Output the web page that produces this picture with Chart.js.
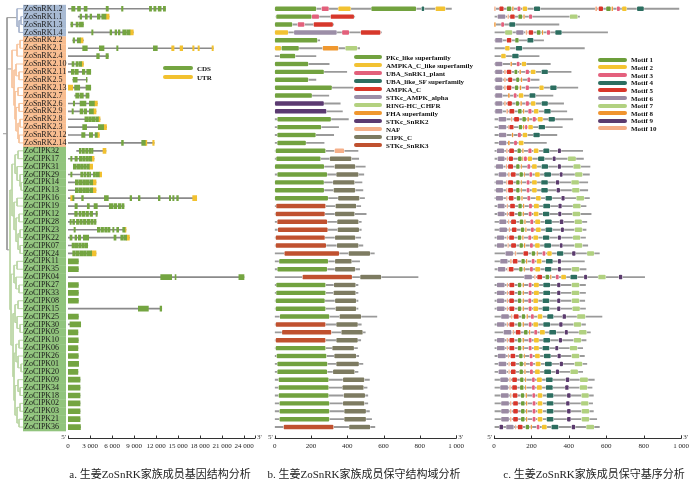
<!DOCTYPE html>
<html>
<head>
<meta charset="utf-8">
<script src="https://cdn.jsdelivr.net/npm/chart.js@4.4.1/dist/chart.umd.min.js"></script>
<style>
  body { margin: 0; background: #fff; width: 700px; height: 480px; position: relative; overflow: hidden; }
  canvas { position: absolute; top: 0; }
  .cap { position: absolute; top: 465px; font: 11px "Liberation Serif", "Noto Sans CJK SC", serif; color: #222; white-space: nowrap; transform: translateX(-50%); }
  .lg { position: absolute; font: bold 7px "Liberation Serif", serif; color: #111; white-space: nowrap; line-height: 8px; height: 8px; }
  .lg i { display: inline-block; height: 4px; border-radius: 2px; vertical-align: middle; margin-right: 4px; position: relative; top: -1px; }
</style>
</head>
<body>
<canvas id="tree" width="24" height="480" style="left:0"></canvas>
<canvas id="genes" width="250" height="480" style="left:20px"></canvas>
<canvas id="domains" width="213" height="480" style="left:262px"></canvas>
<canvas id="motifs" width="220" height="480" style="left:480px"></canvas>
<div class="cap" style="left:160px">a. 生姜ZoSnRK家族成员基因结构分析</div>
<div class="cap" style="left:364px">b. 生姜ZoSnRK家族成员保守结构域分析</div>
<div class="cap" style="left:594px">c. 生姜ZoSnRK家族成员保守基序分析</div>
<script>
// gene order, top to bottom
const genes = ['ZoSnRK1.2', 'ZoSnRK1.1', 'ZoSnRK1.3', 'ZoSnRK1.4', 'ZoSnRK2.2', 'ZoSnRK2.1', 'ZoSnRK2.4', 'ZoSnRK2.10',
  'ZoSnRK2.11', 'ZoSnRK2.5', 'ZoSnRK2.13', 'ZoSnRK2.7', 'ZoSnRK2.6', 'ZoSnRK2.9', 'ZoSnRK2.8', 'ZoSnRK2.3', 'ZoSnRK2.12',
  'ZoSnRK2.14', 'ZoCIPK32', 'ZoCIPK17', 'ZoCIPK31', 'ZoCIPK29', 'ZoCIPK14', 'ZoCIPK13', 'ZoCIPK16', 'ZoCIPK19', 'ZoCIPK12',
  'ZoCIPK28', 'ZoCIPK23', 'ZoCIPK22', 'ZoCIPK07', 'ZoCIPK24', 'ZoCIPK11', 'ZoCIPK35', 'ZoCIPK04', 'ZoCIPK27', 'ZoCIPK33',
  'ZoCIPK08', 'ZoCIPK15', 'ZoCIPK25', 'ZoCIPK30', 'ZoCIPK05', 'ZoCIPK10', 'ZoCIPK06', 'ZoCIPK26', 'ZoCIPK01', 'ZoCIPK20',
  'ZoCIPK09', 'ZoCIPK34', 'ZoCIPK18', 'ZoCIPK02', 'ZoCIPK03', 'ZoCIPK21', 'ZoCIPK36'];

// tick values of the three axes
const bpTicks = [0, 3000, 6000, 9000, 12000, 15000, 18000, 21000, 24000];
const aaTicks = [0, 200, 400, 600, 800, 1000];

// phylogenetic tree: [node depth, children...], leaves are row indexes
const tree = [7,
  [17, 0, [19, [21, 1, 2], 3]],
  [12, [17, [20, 4, 5], 6], [14, [16, 7, [19, 8, 9]], [15, [18, 10, 11], [16, [19, 12, 13], [18, [20, 14, 15], [19, 16, 17]]]]]],
  [10,
    [12, [15, [18, 18, 19], [17, 20, [20, 21, [21, 22, 23]]]], [14, [17, 24, 25], [16, [19, 26, 27], [18, [20, 28, 29], [20, 30, 31]]]]],
    [11, [14, [17, 32, 33], [16, 34, [19, 35, 36]]],
      [13, [15, [18, 37, 38], [17, 39, [20, 40, 41]]],
        [14, [16, [19, 42, 43], [18, 44, [21, 45, 46]]], [15, [18, 47, [20, 48, 49]], [17, [20, 50, 51], [19, 52, 53]]]]]]]
];

// a. gene structure (bp)
const geneSpan = [[0, 13300], [1400, 5600], [370, 2100], [0, 8900], [640, 2100], [0, 19800], [0, 5500], [0, 2100],
  [0, 3100], [640, 2600], [0, 3100], [910, 2860], [0, 4000], [0, 3820], [0, 4370], [0, 5250], [0, 4270], [0, 11750],
  [1180, 5180], [0, 3550], [730, 3360], [0, 4590], [0, 3820], [0, 3820], [0, 17550], [0, 7640], [0, 4000], [0, 3820],
  [0, 7910], [0, 8370], [0, 2700], [0, 3820], [0, 1410], [0, 1410], [0, 24000], [0, 1410], [0, 1410], [0, 1410],
  [0, 12780], [0, 1410], [0, 1730], [0, 1350], [0, 1400], [0, 1350], [0, 1400], [0, 1450], [0, 1350], [0, 1640],
  [0, 1640], [0, 1640], [0, 1640], [0, 1640], [0, 1640], [0, 1700]];

const cdsParts = [
  [[500, 950], [1300, 1700], [2200, 2600], [5200, 5500], [7300, 7500], [11100, 11400], [11700, 12000], [12300, 12700], [13000, 13300]],
  [[1640, 1860], [2360, 2630], [3000, 3230], [4000, 4360], [4600, 5180]],
  [[400, 650], [1100, 1400], [1550, 2100]],
  [[3230, 3410], [5730, 5960], [6410, 6640], [6860, 7090], [7460, 7900], [8000, 8460]],
  [[700, 900], [1270, 1700]],
  [[2000, 2630], [4270, 4910], [6640, 6820], [11640, 12180]],
  [[3910, 4270], [5180, 5500]],
  [[550, 820], [1090, 1410], [1540, 1860]],
  [[450, 820], [950, 1400], [1950, 2300], [2550, 3100]],
  [[700, 1250], [2500, 2600]],
  [[900, 1600], [2450, 3100]],
  [[1050, 1500], [1640, 2090], [2450, 2860]],
  [[720, 910], [1640, 2000], [2090, 2450], [2910, 3600]],
  [[550, 730], [1640, 2000], [2180, 2540], [2910, 3460]],
  [[2300, 2700], [2800, 3200], [3300, 3700], [3800, 4150]],
  [[2000, 2540], [4140, 4860]],
  [[1860, 2320], [2910, 3360], [3700, 4000]],
  [[7300, 7550], [10050, 10550]],
  [[1540, 1800], [1950, 2250], [2400, 2700], [2850, 3100], [3200, 3410]],
  [[370, 550], [950, 1270], [1540, 1900], [2000, 2350], [2450, 2800], [2900, 3230]],
  [[730, 1100], [1200, 1600], [1700, 2100], [2200, 2500], [2600, 2910]],
  [[370, 550], [1730, 2000], [2150, 2450], [2600, 2850], [2950, 3090], [3460, 3750], [3850, 4270]],
  [[1000, 1400], [1500, 1900], [2000, 2400], [2500, 2900], [3000, 3370]],
  [[1000, 1400], [1500, 1900], [2000, 2400], [2500, 2900], [3000, 3370]],
  [[640, 820], [1860, 2090], [4960, 5500], [8460, 8680], [9590, 9820], [12320, 12550], [13820, 14000], [14280, 14460], [14820, 15050]],
  [[950, 1270], [2630, 2910], [3550, 4000], [5630, 6100], [6250, 6650], [6850, 7200], [7350, 7640]],
  [[910, 1270], [1500, 1800], [1950, 2300], [2450, 2800], [3000, 3360], [3820, 4000]],
  [[270, 450], [640, 900], [1150, 1450], [1600, 1950], [2100, 2450], [2600, 2950], [3100, 3450], [3600, 3820]],
  [[820, 1000], [4000, 4350], [4500, 4850], [5000, 5350], [5450, 5730], [6100, 6270], [6640, 6910], [7460, 7770]],
  [[270, 550], [950, 1180], [1410, 1730], [2090, 2820], [6270, 6550], [7190, 7550], [7650, 8000]],
  [[550, 900], [1000, 1350], [1450, 1800], [1900, 2250], [2350, 2680]],
  [[640, 1000], [1100, 1500], [1600, 2000], [2100, 2500], [2600, 3230]],
  [[0, 1410]], [[0, 1410]],
  [[12640, 14140], [14600, 14730], [23300, 24000]],
  [[0, 1410]], [[0, 1410]], [[0, 1410]],
  [[9590, 10960], [12550, 12780]],
  [[0, 1410]], [[270, 1730]], [[0, 1350]], [[0, 1400]], [[0, 1350]], [[0, 1400]], [[0, 1450]], [[0, 1350]],
  [[0, 1640]], [[0, 1640]], [[0, 1640]], [[0, 1640]], [[0, 1640]], [[0, 1640]], [[0, 1700]]
];

const utrParts = [
  [], [[5180, 5600]], [], [[8460, 8900]], [[1700, 2050]],
  [[14140, 14460], [15280, 15640], [17000, 17190], [17730, 17910], [19640, 19820]],
  [], [[1860, 2100]], [], [], [[0, 640]], [], [[3600, 4000]], [[3460, 3820]], [[4150, 4370]], [[4860, 5250]],
  [[4000, 4270]], [[10550, 10750], [11550, 11750]],
  [[4770, 5180]], [[3230, 3550]], [[2910, 3360]], [[4270, 4590]], [[3370, 3820]], [[3370, 3820]],
  [[370, 640], [17000, 17550]], [], [], [], [[7770, 7910]], [[8000, 8370]], [], [[3230, 3820]],
  [], [], [], [], [], [], [], [], [], [], [], [], [], [], [], [], [], [], [], [], [], []
];

// b. conserved domains (aa)
const domainNames = ['PKc_like superfamily', 'AMPKA_C_like superfamily', 'UBA_SnRK1_plant', 'UBA_like_SF superfamily',
  'AMPKA_C', 'STKc_AMPK_alpha', 'RING-HC_CHFR', 'FHA superfamily', 'STKc_SnRK2', 'NAF', 'CIPK_C', 'STKc_SnRK3'];
const domainColors = ['#72a23f', '#f2c232', '#e2607b', '#2b6e60', '#d7382b', '#9c8ea7', '#b3d17f', '#f0982f',
  '#5b3a71', '#f5b08a', '#7d7b61', '#c0512f'];

const protSpan = [[0, 974], [7, 441], [0, 325], [0, 588], [0, 248], [0, 468], [0, 227], [0, 300], [0, 397], [0, 227],
  [0, 432], [0, 298], [0, 361], [0, 373], [0, 406], [0, 352], [0, 325], [0, 272], [0, 459], [0, 463], [0, 499],
  [0, 491], [0, 481], [0, 486], [0, 495], [0, 474], [0, 504], [0, 477], [0, 477], [0, 474], [0, 486], [0, 549],
  [0, 468], [0, 468], [0, 790], [0, 459], [0, 459], [0, 459], [0, 459], [0, 563], [0, 477], [0, 499], [0, 474],
  [0, 456], [0, 463], [0, 486], [0, 459], [0, 522], [0, 509], [0, 513], [0, 513], [0, 522], [0, 534], [0, 552]];

const domainParts = [
  [[0, 0, 230], [2, 257, 299], [1, 349, 420], [0, 531, 781], [3, 808, 826], [1, 885, 942]],
  [[0, 7, 204], [2, 204, 245], [4, 307, 438]],
  [[0, 0, 98], [2, 125, 165], [4, 213, 322]],
  [[1, 0, 75], [5, 105, 343], [2, 370, 411], [4, 473, 584]],
  [[0, 0, 236]],
  [[1, 0, 36], [0, 36, 134], [7, 263, 352], [6, 388, 456]],
  [[0, 27, 114]], [[0, 0, 186]], [[0, 0, 272]], [[0, 0, 186]], [[0, 0, 316]], [[0, 0, 206]],
  [[8, 0, 272]], [[8, 0, 286]],
  [[0, 13, 311]], [[0, 13, 257]], [[0, 13, 227]], [[0, 13, 173]],
  [[0, 4, 281], [9, 329, 384]],
  [[0, 7, 254], [10, 302, 424]],
  [[0, 0, 273], [10, 329, 445]],
  [[0, 13, 290], [10, 338, 463]],
  [[0, 0, 272], [10, 320, 441]],
  [[0, 0, 273], [10, 323, 445]],
  [[0, 0, 295], [10, 348, 468]],
  [[11, 7, 281], [10, 334, 450]],
  [[11, 4, 277], [10, 331, 441]],
  [[11, 13, 290], [10, 343, 463]],
  [[11, 16, 293], [10, 345, 466]],
  [[11, 4, 277], [10, 331, 445]],
  [[11, 4, 284], [10, 341, 463]],
  [[11, 52, 356], [10, 406, 527]],
  [[0, 23, 295], [10, 331, 425]],
  [[0, 13, 290], [10, 331, 445]],
  [[11, 152, 427], [10, 470, 588]],
  [[0, 7, 281], [10, 325, 447]],
  [[0, 7, 281], [10, 323, 447]],
  [[0, 4, 277], [10, 331, 450]],
  [[0, 4, 281], [10, 334, 450]],
  [[0, 27, 302], [10, 356, 477]],
  [[11, 4, 281], [10, 338, 459]],
  [[11, 39, 313], [10, 366, 486]],
  [[11, 4, 281], [10, 338, 459]],
  [[0, 4, 281], [10, 316, 438]],
  [[0, 9, 286], [10, 327, 450]],
  [[0, 13, 291], [10, 338, 465]],
  [[0, 13, 290], [10, 320, 441]],
  [[0, 20, 298], [10, 375, 495]],
  [[0, 20, 298], [10, 372, 491]],
  [[0, 20, 298], [10, 379, 499]],
  [[0, 25, 302], [10, 375, 495]],
  [[0, 25, 302], [10, 382, 504]],
  [[0, 25, 302], [10, 382, 504]],
  [[11, 48, 325], [10, 409, 527]]
];

// c. conserved motifs (aa), [motif number, start, end]
const motifNames = ['Motif 1', 'Motif 2', 'Motif 3', 'Motif 4', 'Motif 5', 'Motif 6', 'Motif 7', 'Motif 8', 'Motif 9', 'Motif 10'];
const motifColors = ['#6c9e3a', '#f4c431', '#e4607d', '#2c6e60', '#d8362b', '#9a8aa3', '#b1d180', '#f0942f', '#5b3b6e', '#f6ae86'];

const motifSpan = [[0, 988], [5, 457], [0, 347], [5, 607], [5, 265], [5, 483], [5, 241], [5, 301], [5, 412], [5, 241],
  [5, 448], [5, 315], [5, 372], [5, 389], [5, 421], [5, 365], [5, 336], [5, 280], [5, 474], [5, 478], [5, 513],
  [5, 510], [5, 501], [5, 501], [5, 510], [5, 492], [5, 519], [5, 496], [5, 492], [5, 489], [5, 501], [5, 563],
  [5, 483], [5, 492], [5, 805], [5, 489], [5, 489], [5, 485], [5, 489], [5, 577], [5, 489], [5, 515], [5, 492],
  [5, 474], [5, 483], [5, 496], [5, 474], [5, 536], [5, 524], [5, 531], [5, 527], [5, 531], [5, 549], [5, 563]];

const motifParts = [
  [[10, 0, 10], [5, 27, 53], [1, 67, 94], [8, 96, 106], [3, 124, 143], [2, 152, 179], [4, 212, 248],
   [10, 540, 552], [5, 558, 584], [1, 598, 625], [8, 627, 637], [3, 655, 674], [2, 683, 710], [4, 763, 802]],
  [[6, 18, 62], [10, 71, 81], [5, 85, 112], [1, 129, 152], [8, 156, 165], [3, 186, 205], [7, 404, 448]],
  [[8, 0, 10], [3, 37, 55], [4, 80, 115]],
  [[7, 58, 99], [6, 117, 159], [10, 168, 179], [5, 184, 211], [1, 227, 250], [8, 255, 264], [3, 281, 301], [4, 326, 363]],
  [[6, 5, 46], [5, 67, 94], [1, 112, 133], [4, 177, 212]],
  [[2, 58, 85], [4, 115, 152]],
  [[2, 37, 64], [4, 96, 133]],
  [[6, 5, 46], [8, 87, 97], [3, 120, 138], [2, 147, 173]],
  [[6, 5, 46], [10, 53, 64], [5, 67, 94], [1, 108, 126], [8, 135, 145], [3, 168, 188], [2, 195, 223], [4, 253, 289]],
  [[6, 5, 46], [10, 53, 64], [5, 74, 99], [1, 117, 136], [8, 142, 152], [3, 177, 195]],
  [[6, 5, 46], [10, 53, 64], [5, 67, 94], [1, 110, 131], [8, 136, 147], [3, 168, 188], [2, 241, 267], [4, 299, 336]],
  [[6, 5, 46], [8, 74, 85], [3, 104, 122], [2, 131, 158], [4, 188, 223]],
  [[6, 5, 46], [10, 53, 64], [5, 71, 97], [1, 115, 135], [8, 140, 150], [3, 168, 188], [2, 196, 223], [4, 253, 289]],
  [[6, 5, 46], [10, 65, 76], [5, 81, 110], [1, 127, 149], [8, 154, 163], [3, 182, 202], [2, 212, 239], [4, 267, 304]],
  [[6, 23, 67], [10, 89, 99], [5, 106, 135], [1, 150, 172], [8, 177, 188], [3, 205, 225], [2, 232, 262], [4, 290, 327]],
  [[6, 23, 67], [10, 74, 81], [5, 81, 106], [1, 131, 152], [8, 154, 163], [3, 165, 179], [2, 182, 209], [4, 237, 274]],
  [[6, 25, 67], [8, 94, 104], [3, 126, 145], [2, 152, 179], [4, 209, 246]],
  [[6, 25, 67], [8, 74, 85], [3, 106, 124], [2, 131, 159]],
  [[6, 14, 55], [10, 64, 74], [5, 80, 108], [1, 124, 145], [8, 150, 159], [3, 182, 202], [2, 211, 239], [4, 262, 297], [9, 340, 359]],
  [[6, 18, 58], [10, 67, 76], [5, 78, 103], [1, 127, 149], [8, 150, 158], [3, 159, 177], [2, 179, 205], [4, 234, 271], [9, 312, 331], [7, 393, 439]],
  [[6, 9, 50], [10, 62, 71], [5, 74, 103], [1, 117, 138], [8, 142, 150], [3, 177, 195], [2, 202, 230], [4, 253, 290], [9, 340, 359], [7, 423, 464]],
  [[6, 23, 67], [10, 74, 85], [5, 89, 117], [1, 135, 156], [8, 159, 166], [3, 188, 205], [2, 218, 246], [4, 267, 306], [9, 350, 368], [7, 432, 474]],
  [[6, 9, 50], [10, 64, 73], [5, 74, 103], [1, 117, 138], [8, 142, 150], [3, 173, 191], [2, 202, 230], [4, 251, 289], [9, 329, 350], [7, 412, 455]],
  [[6, 9, 50], [10, 64, 73], [5, 74, 103], [1, 117, 138], [8, 142, 150], [3, 173, 191], [2, 202, 230], [4, 251, 289], [9, 333, 354], [7, 416, 458]],
  [[6, 9, 50], [10, 64, 73], [5, 78, 106], [1, 120, 142], [8, 145, 154], [3, 177, 195], [2, 223, 251], [4, 274, 311], [9, 359, 379], [7, 439, 483]],
  [[6, 18, 58], [10, 67, 76], [5, 85, 113], [1, 129, 150], [8, 154, 163], [3, 186, 204], [2, 212, 241], [4, 262, 301], [9, 343, 363], [7, 421, 464]],
  [[6, 18, 58], [10, 67, 76], [5, 81, 110], [1, 127, 149], [8, 152, 161], [3, 184, 202], [2, 211, 239], [4, 260, 297], [9, 342, 361], [7, 419, 462]],
  [[6, 27, 67], [10, 74, 83], [5, 90, 119], [1, 136, 158], [8, 161, 170], [3, 193, 211], [2, 219, 248], [4, 271, 310], [9, 350, 372], [7, 430, 471]],
  [[6, 27, 71], [10, 78, 87], [5, 94, 122], [1, 142, 163], [8, 166, 175], [3, 196, 214], [2, 223, 251], [4, 274, 313], [9, 356, 375], [7, 430, 473]],
  [[6, 14, 55], [10, 67, 76], [5, 80, 108], [1, 126, 147], [8, 150, 159], [3, 182, 200], [2, 209, 237], [4, 260, 297], [9, 340, 359], [7, 421, 462]],
  [[6, 14, 55], [10, 71, 80], [5, 90, 119], [1, 135, 156], [8, 159, 168], [3, 191, 209], [2, 218, 246], [4, 267, 306], [9, 350, 368], [7, 430, 473]],
  [[6, 60, 103], [10, 110, 120], [5, 156, 184], [1, 200, 221], [8, 227, 235], [3, 258, 276], [2, 283, 310], [4, 335, 372], [9, 416, 437], [7, 496, 536]],
  [[6, 32, 74], [10, 85, 96], [5, 99, 127], [1, 145, 166], [8, 170, 179], [3, 200, 218], [2, 227, 255], [4, 276, 315], [9, 340, 359]],
  [[6, 19, 62], [10, 71, 80], [5, 78, 106], [1, 133, 154], [8, 158, 166], [3, 191, 209], [2, 219, 248], [4, 271, 308], [9, 340, 359], [7, 414, 457]],
  [[6, 161, 204], [10, 214, 223], [5, 230, 258], [1, 274, 296], [8, 299, 308], [3, 329, 347], [2, 358, 386], [4, 407, 446], [9, 480, 499], [7, 556, 598], [9, 666, 687]],
  [[6, 14, 58], [10, 67, 76], [5, 81, 110], [1, 126, 147], [8, 152, 161], [3, 184, 202], [2, 212, 241], [4, 262, 301], [9, 336, 356], [7, 414, 457]],
  [[6, 14, 58], [10, 67, 76], [5, 81, 110], [1, 126, 147], [8, 152, 161], [3, 184, 202], [2, 212, 241], [4, 262, 301], [9, 336, 356], [7, 414, 457]],
  [[6, 14, 55], [10, 67, 76], [5, 80, 108], [1, 126, 147], [8, 152, 161], [3, 182, 200], [2, 209, 237], [4, 258, 297], [9, 336, 356], [7, 414, 457]],
  [[6, 14, 58], [10, 67, 76], [5, 81, 110], [1, 126, 147], [8, 152, 161], [3, 184, 202], [2, 209, 237], [4, 258, 297], [9, 336, 356], [7, 418, 460]],
  [[6, 37, 81], [10, 90, 99], [5, 104, 133], [1, 147, 168], [8, 173, 182], [3, 196, 214], [2, 232, 260], [4, 283, 319], [9, 365, 386], [7, 443, 489]],
  [[6, 14, 58], [10, 67, 76], [5, 81, 110], [1, 126, 147], [8, 152, 161], [3, 184, 202], [2, 209, 237], [4, 262, 301], [9, 347, 368], [7, 425, 467]],
  [[6, 50, 94], [10, 99, 108], [5, 115, 143], [1, 159, 181], [8, 186, 195], [3, 214, 232], [2, 244, 273], [4, 294, 333], [9, 377, 396], [7, 453, 496]],
  [[6, 14, 58], [10, 67, 76], [5, 81, 110], [1, 126, 147], [8, 152, 161], [3, 184, 202], [2, 212, 241], [4, 262, 301], [9, 345, 365], [7, 425, 467]],
  [[6, 14, 58], [10, 67, 76], [5, 81, 110], [1, 126, 147], [8, 152, 161], [3, 184, 202], [2, 212, 241], [4, 258, 297], [9, 326, 345], [7, 404, 446]],
  [[6, 19, 64], [10, 73, 81], [5, 87, 115], [1, 133, 154], [8, 158, 166], [3, 189, 207], [2, 218, 246], [4, 265, 304], [9, 338, 358], [7, 414, 457]],
  [[6, 23, 67], [10, 76, 85], [5, 89, 117], [1, 135, 156], [8, 161, 170], [3, 191, 209], [2, 221, 250], [4, 271, 310], [9, 350, 370], [7, 430, 473]],
  [[6, 23, 67], [10, 76, 85], [5, 89, 117], [1, 135, 156], [8, 161, 170], [3, 191, 209], [2, 218, 246], [4, 267, 306], [9, 329, 349], [7, 407, 450]],
  [[6, 32, 76], [10, 81, 90], [5, 96, 124], [1, 138, 159], [8, 165, 173], [3, 202, 219], [2, 228, 257], [4, 276, 315], [9, 382, 404], [7, 458, 503]],
  [[6, 32, 76], [10, 81, 90], [5, 96, 124], [1, 138, 159], [8, 165, 173], [3, 202, 219], [2, 228, 257], [4, 276, 315], [9, 379, 400], [7, 457, 499]],
  [[6, 35, 80], [10, 85, 94], [5, 99, 127], [1, 142, 163], [8, 168, 177], [3, 204, 221], [2, 232, 260], [4, 280, 319], [9, 389, 411], [7, 466, 508]],
  [[6, 37, 81], [10, 85, 94], [5, 101, 129], [1, 143, 165], [8, 170, 179], [3, 205, 223], [2, 232, 260], [4, 280, 319], [9, 384, 405], [7, 464, 506]],
  [[6, 37, 81], [10, 85, 94], [5, 101, 129], [1, 143, 165], [8, 170, 179], [3, 205, 223], [2, 232, 260], [4, 280, 319], [9, 389, 411], [7, 467, 510]],
  [[6, 37, 81], [10, 85, 94], [5, 101, 129], [1, 143, 165], [8, 170, 179], [3, 205, 223], [2, 232, 260], [4, 280, 319], [9, 389, 411], [7, 467, 510]],
  [[9, 28, 50], [6, 64, 106], [10, 112, 120], [5, 126, 154], [1, 168, 189], [8, 195, 204], [3, 227, 244], [2, 255, 283], [4, 306, 345], [9, 414, 435], [7, 492, 536]]
];

const groupBand = ['#a8bad3', '#f8bd90', '#91c47d'];
const treeColors = ['#a9b5cd', '#f7c39c', '#bad5a4', '#9a9a9a'];
const groupOf = i => genes[i].startsWith('ZoSnRK1') ? 0 : (genes[i].startsWith('ZoSnRK2') ? 1 : 2);

const serif = 'Liberation Serif';
const spaced = v => String(v).replace(/\B(?=(\d{3})+(?!\d))/g, ' ');

// axis line with upward ticks and 5'/3' ends, drawn a little under the plot
const axisLine = {
  id: 'axisLine',
  afterDraw(chart) {
    const { ctx, chartArea: ca, scales: { x } } = chart;
    const y = Math.round(ca.bottom + 6.5) + 0.5;
    ctx.save();
    ctx.strokeStyle = '#333';
    ctx.lineWidth = 1;
    ctx.beginPath();
    ctx.moveTo(ca.left, y);
    ctx.lineTo(ca.right, y);
    const marks = x.ticks.map(t => t.value).concat([x.max]);
    marks.forEach(v => {
      const px = Math.round(x.getPixelForValue(v)) + 0.5;
      ctx.moveTo(px, y);
      ctx.lineTo(px, y - 3);
    });
    ctx.stroke();
    ctx.fillStyle = '#333';
    ctx.font = '7px "' + serif + '"';
    ctx.textBaseline = 'alphabetic';
    ctx.textAlign = 'right';
    ctx.fillText("5'", ca.left - 2, y);
    ctx.textAlign = 'left';
    ctx.fillText("3'", ca.right + 2, y);
    ctx.restore();
  }
};

// coloured band behind the gene names
const labelBands = {
  id: 'labelBands',
  beforeDraw(chart) {
    const { ctx, chartArea: ca, scales: { y } } = chart;
    const h = y.getPixelForValue(1) - y.getPixelForValue(0);
    ctx.save();
    genes.forEach((g, i) => {
      ctx.fillStyle = groupBand[groupOf(i)];
      const py = y.getPixelForValue(i);
      ctx.fillRect(3, py - h / 2, ca.left - 5, h + 0.3);
    });
    ctx.restore();
  }
};

const spans = arr => arr.map((s, i) => ({ y: genes[i], x: s }));
const parts = (arr, type) => arr.flatMap((list, i) =>
  list.filter(p => type === undefined || p[0] === type).map(p => ({ y: genes[i], x: p.length === 3 ? [p[1], p[2]] : p })));

const xAxis = (max, values) => ({
  type: 'linear', min: 0, max: max,
  grid: { display: false, drawTicks: false },
  border: { display: false },
  afterBuildTicks: s => { s.ticks = values.map(v => ({ value: v })); },
  ticks: {
    autoSkip: false, maxRotation: 0, minRotation: 0, padding: 11,
    color: '#222', font: { family: serif, size: 7 },
    callback: v => spaced(v)
  },
  afterFit: s => { s.height = 18; }
});

const common = {
  indexAxis: 'y', responsive: false, animation: false,
  datasets: { bar: { grouped: false, borderSkipped: false } },
  plugins: { legend: { display: false }, tooltip: { enabled: false } }
};

// a. gene structure
const chartA = new Chart(document.getElementById('genes'), {
  type: 'bar',
  data: {
    labels: genes,
    datasets: [
      { label: 'CDS', data: parts(cdsParts), backgroundColor: '#74a541', barThickness: 5, borderWidth: 0 },
      { label: 'UTR', data: parts(utrParts), backgroundColor: '#f2c12f', barThickness: 5, borderWidth: 0 },
      { label: 'intron', data: spans(geneSpan), backgroundColor: '#8a8a8a', barThickness: 1, borderWidth: 0 }
    ]
  },
  options: {
    ...common,
    layout: { padding: { left: 4, right: 15, top: 3, bottom: 31 } },
    scales: {
      x: xAxis(25500, bpTicks),
      y: {
        type: 'category', offset: true,
        grid: { display: false, drawTicks: false }, border: { display: false },
        ticks: { autoSkip: false, crossAlign: 'far', padding: 0, color: '#1a1a1a', font: { family: serif, size: 8 } },
        afterFit: s => { s.width = 44; }
      }
    }
  },
  plugins: [labelBands, axisLine]
});

const area = chartA.chartArea;
const padFor = (left, right) => ({ left: left, right: right, top: area.top, bottom: 480 - 18 - area.bottom });
const hiddenY = { type: 'category', offset: true, display: false };

// b. conserved domains
new Chart(document.getElementById('domains'), {
  type: 'bar',
  data: {
    labels: genes,
    datasets: domainNames.map((name, k) => ({
      label: name, data: parts(domainParts, k), backgroundColor: domainColors[k],
      barThickness: 5, borderWidth: 0.6, borderColor: 'rgba(255,255,255,0.9)', borderRadius: 1.5
    })).concat([{ label: 'protein', data: spans(protSpan), backgroundColor: '#9a9a9a', barThickness: 1.2, borderWidth: 0 }])
  },
  options: { ...common, layout: { padding: padFor(9, 17.5) }, scales: { x: xAxis(1000, aaTicks), y: hiddenY } },
  plugins: [axisLine]
});

// c. conserved motifs
new Chart(document.getElementById('motifs'), {
  type: 'bar',
  data: {
    labels: genes,
    datasets: motifNames.map((name, k) => ({
      label: name, data: parts(motifParts, k + 1), backgroundColor: motifColors[k],
      barThickness: 5, borderWidth: 0.6, borderColor: 'rgba(255,255,255,0.9)', borderRadius: 1.5
    })).concat([{ label: 'protein', data: spans(motifSpan), backgroundColor: '#9a9a9a', barThickness: 1.2, borderWidth: 0 }])
  },
  options: { ...common, layout: { padding: padFor(14, 18) }, scales: { x: xAxis(1000, aaTicks), y: hiddenY } },
  plugins: [axisLine]
});

// tree, laid out on the same rows as the gene names
const tipX = 23;
const segs = [[], [], [], []];
const gap = { x: null, y: null };
function layout(node) {
  if (typeof node === 'number') return { x: tipX, y: node, g: groupOf(node) };
  const [x, ...kids] = node;
  const ks = kids.map(layout);
  const y = (ks[0].y + ks[ks.length - 1].y) / 2;
  const g = ks.every(k => k.g === ks[0].g) ? ks[0].g : 3;
  segs[g].push({ x: x, y: ks[0].y }, { x: x, y: ks[ks.length - 1].y }, gap);
  ks.forEach(k => segs[g].push({ x: x, y: k.y }, { x: k.x, y: k.y }, gap));
  return { x: x, y: y, g: g };
}
const root = layout(tree);
segs[3].push({ x: 3, y: root.y }, { x: root.x, y: root.y });

new Chart(document.getElementById('tree'), {
  type: 'scatter',
  data: {
    datasets: segs.map((s, k) => ({ data: s, showLine: true, borderColor: treeColors[k], borderWidth: 1, pointRadius: 0, spanGaps: false }))
  },
  options: {
    responsive: false, animation: false,
    layout: { padding: { left: 0, right: 0, top: area.top, bottom: 480 - area.bottom } },
    plugins: { legend: { display: false }, tooltip: { enabled: false } },
    scales: {
      x: { type: 'linear', min: 0, max: 24, display: false },
      y: { type: 'linear', min: -0.5, max: genes.length - 0.5, reverse: true, display: false }
    }
  }
});

// legends
function addLegend(names, colors, left, top, step, width) {
  names.forEach((name, k) => {
    const d = document.createElement('div');
    d.className = 'lg';
    d.style.left = left + 'px';
    d.style.top = (top + k * step - 4) + 'px';
    const sw = document.createElement('i');
    sw.style.width = width + 'px';
    sw.style.background = colors[k];
    d.appendChild(sw);
    d.appendChild(document.createTextNode(name));
    document.body.appendChild(d);
  });
}
addLegend(['CDS', 'UTR'], ['#74a541', '#f2c12f'], 163, 69, 8.5, 30);
addLegend(domainNames, domainColors, 354, 58, 8, 28);
addLegend(motifNames, motifColors, 598, 60.3, 7.64, 29);
</script>
</body>
</html>
